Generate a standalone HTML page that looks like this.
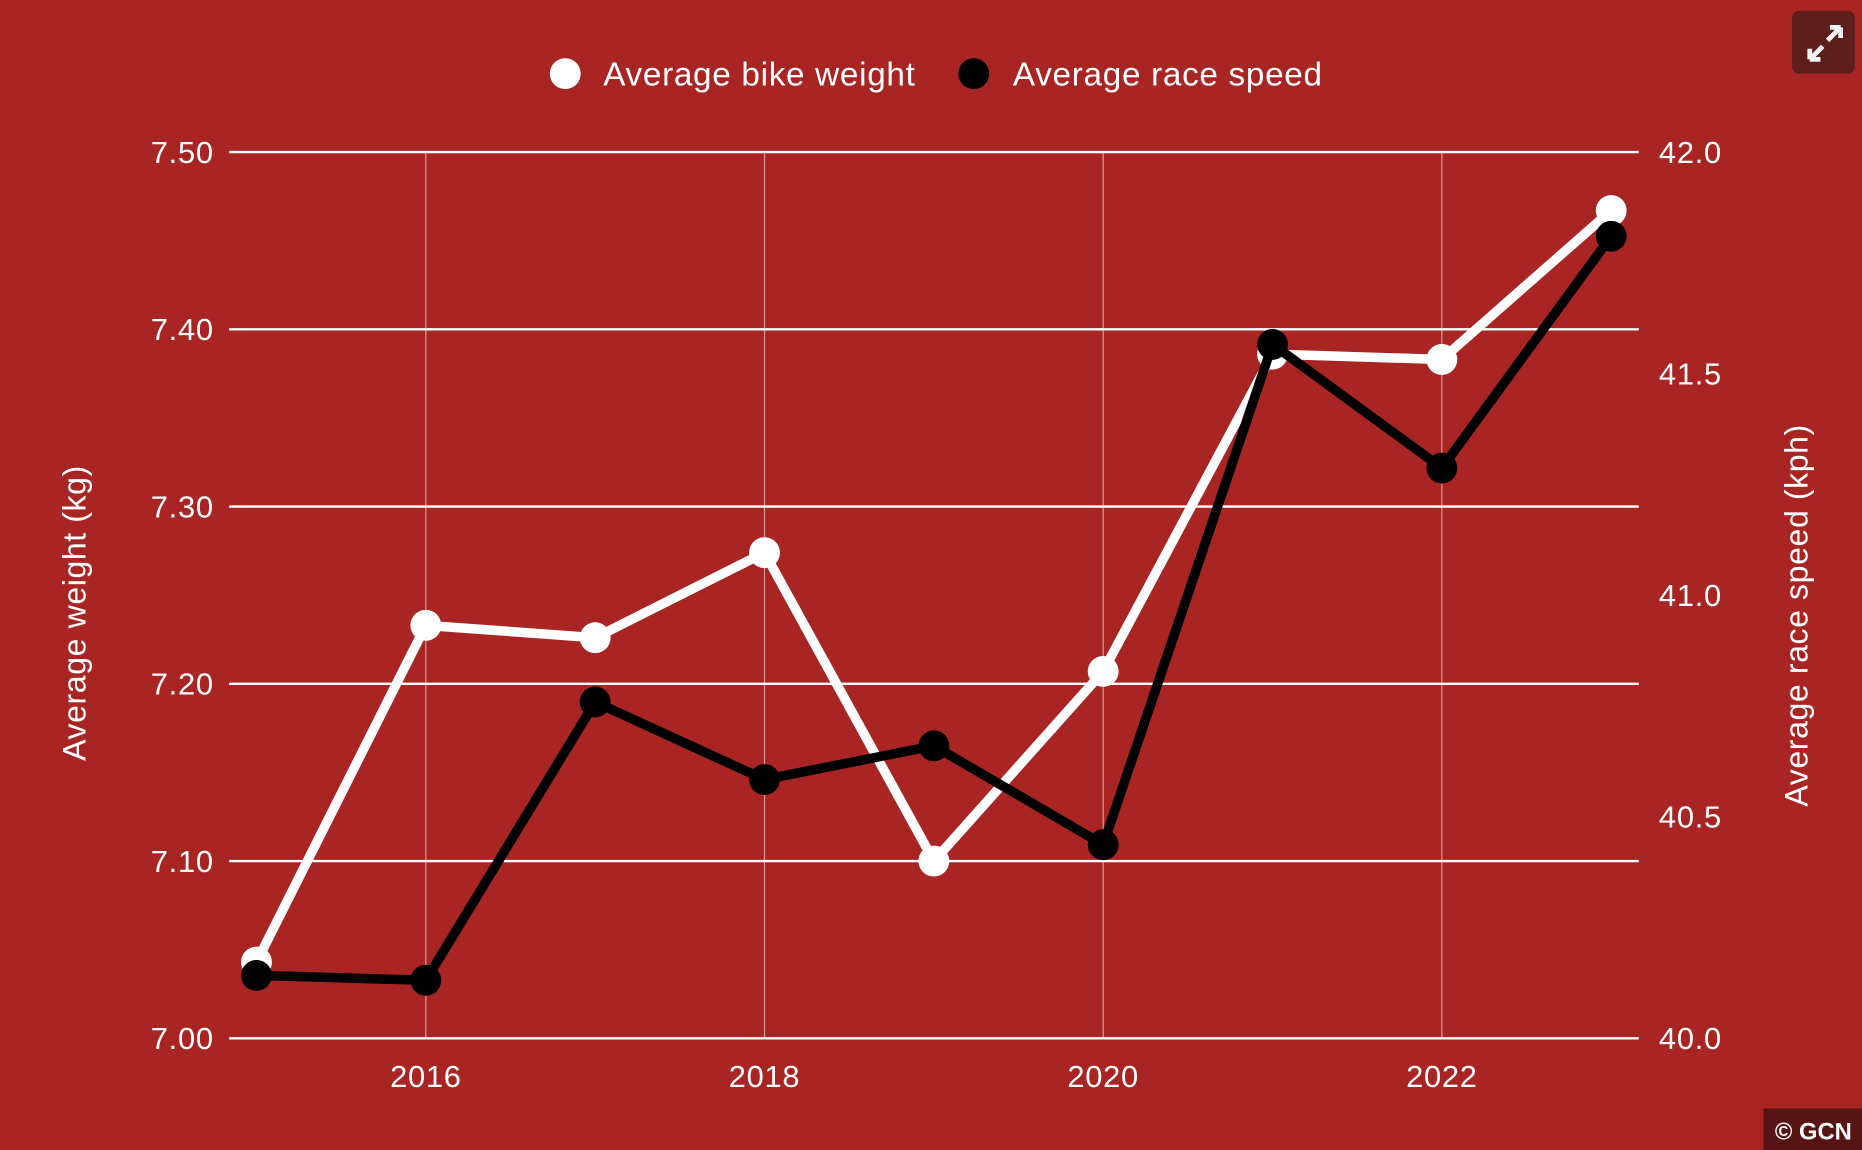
<!DOCTYPE html>
<html><head><meta charset="utf-8"><style>
html,body{margin:0;padding:0;background:#a82523;}
svg{display:block;font-family:"Liberation Sans",sans-serif;}
</style></head><body>
<svg id="chart" width="1862" height="1150" viewBox="0 0 1568 968" preserveAspectRatio="none">
<rect width="1568" height="968" fill="#a82523"/>
<g id="grid"></g>
<g id="axes"></g>
<g id="series"></g>
<g>
<circle cx="476" cy="62" r="13" fill="#fff"/>
<text x="508" y="72" fill="#fff" font-size="28" letter-spacing="0.6">Average bike weight</text>
<circle cx="820" cy="62" r="13" fill="#000"/>
<text x="853" y="72" fill="#fff" font-size="28" letter-spacing="0.6">Average race speed</text>
</g>
<text transform="translate(72,516) rotate(-90)" text-anchor="middle" fill="#fff" font-size="27" letter-spacing="0.5">Average weight (kg)</text>
<text transform="translate(1522,518) rotate(-90)" text-anchor="middle" fill="#fff" font-size="27" letter-spacing="0.5">Average race speed (kph)</text>
<g>
<rect x="1509" y="9" width="53" height="53" rx="6" fill="#5e1e1b"/>
<path d="M1524 50 L1535 39 M1524 50 L1524 41 M1524 50 L1533 50 M1550 23 L1539 34 M1550 23 L1541 23 M1550 23 L1550 32" stroke="#f4f4f4" stroke-width="4" fill="none"/>
</g>
<g>
<rect x="1485" y="933" width="83" height="35" fill="#581412"/>
<text x="1527" y="959" text-anchor="middle" fill="#fff" font-size="20" font-weight="bold">© GCN</text>
</g>
</svg>
<script>
const years=[2015,2016,2017,2018,2019,2020,2021,2022,2023];
const weightValues=[7.043,7.233,7.226,7.274,7.100,7.207,7.386,7.383,7.467];
const speedValues=[40.142,40.131,40.759,40.584,40.66,40.437,41.566,41.287,41.81];
const leftTicks=[7.00,7.10,7.20,7.30,7.40,7.50];
const rightTicks=[40.0,40.5,41.0,41.5,42.0];
const xTicks=[2016,2018,2020,2022];
const NS="http://www.w3.org/2000/svg";
const xS=y=>216+(y-2015)*142.6;
const yL=v=>874-(v-7)/0.5*746;
const yR=v=>874-(v-40)/2*746;
function mk(tag,attrs,parent){const e=document.createElementNS(NS,tag);for(const k in attrs)e.setAttribute(k,attrs[k]);parent.appendChild(e);return e;}
const grid=document.getElementById('grid'),axes=document.getElementById('axes'),series=document.getElementById('series');
xTicks.forEach(t=>{const l=mk('line',{x1:xS(t),x2:xS(t),y1:128,y2:874,stroke:'rgba(255,255,255,0.55)','stroke-width':1},grid);


const tx=mk('text',{x:xS(t),y:915,'text-anchor':'middle',fill:'#fff','font-size':26,'letter-spacing':0.6},axes);tx.textContent=t;

});
leftTicks.forEach(t=>{const l=mk('line',{x1:193,x2:1380,y1:yL(t),y2:yL(t),stroke:'#fff','stroke-width':2},grid);


const tx=mk('text',{x:180,y:yL(t)+9,'text-anchor':'end',fill:'#fff','font-size':26,'letter-spacing':0.6},axes);tx.textContent=t.toFixed(2);

});
rightTicks.forEach(t=>{const tx=mk('text',{x:1397,y:yR(t)+9,fill:'#fff','font-size':26,'letter-spacing':0.6},axes);tx.textContent=t.toFixed(1);

});
function draw(vals,sc,col,name){
const pts=vals.map((v,i)=>xS(years[i])+','+sc(v)).join(' ');
const pl=mk('polyline',{points:pts,fill:'none',stroke:col,'stroke-width':8,'stroke-linejoin':'round'},series);


vals.forEach((v,i)=>{const c=mk('circle',{cx:xS(years[i]),cy:sc(v),r:13,fill:col},series);

});}
draw(weightValues,yL,'#fff','weight');
draw(speedValues,yR,'#000','speed');
</script>
</body></html>
